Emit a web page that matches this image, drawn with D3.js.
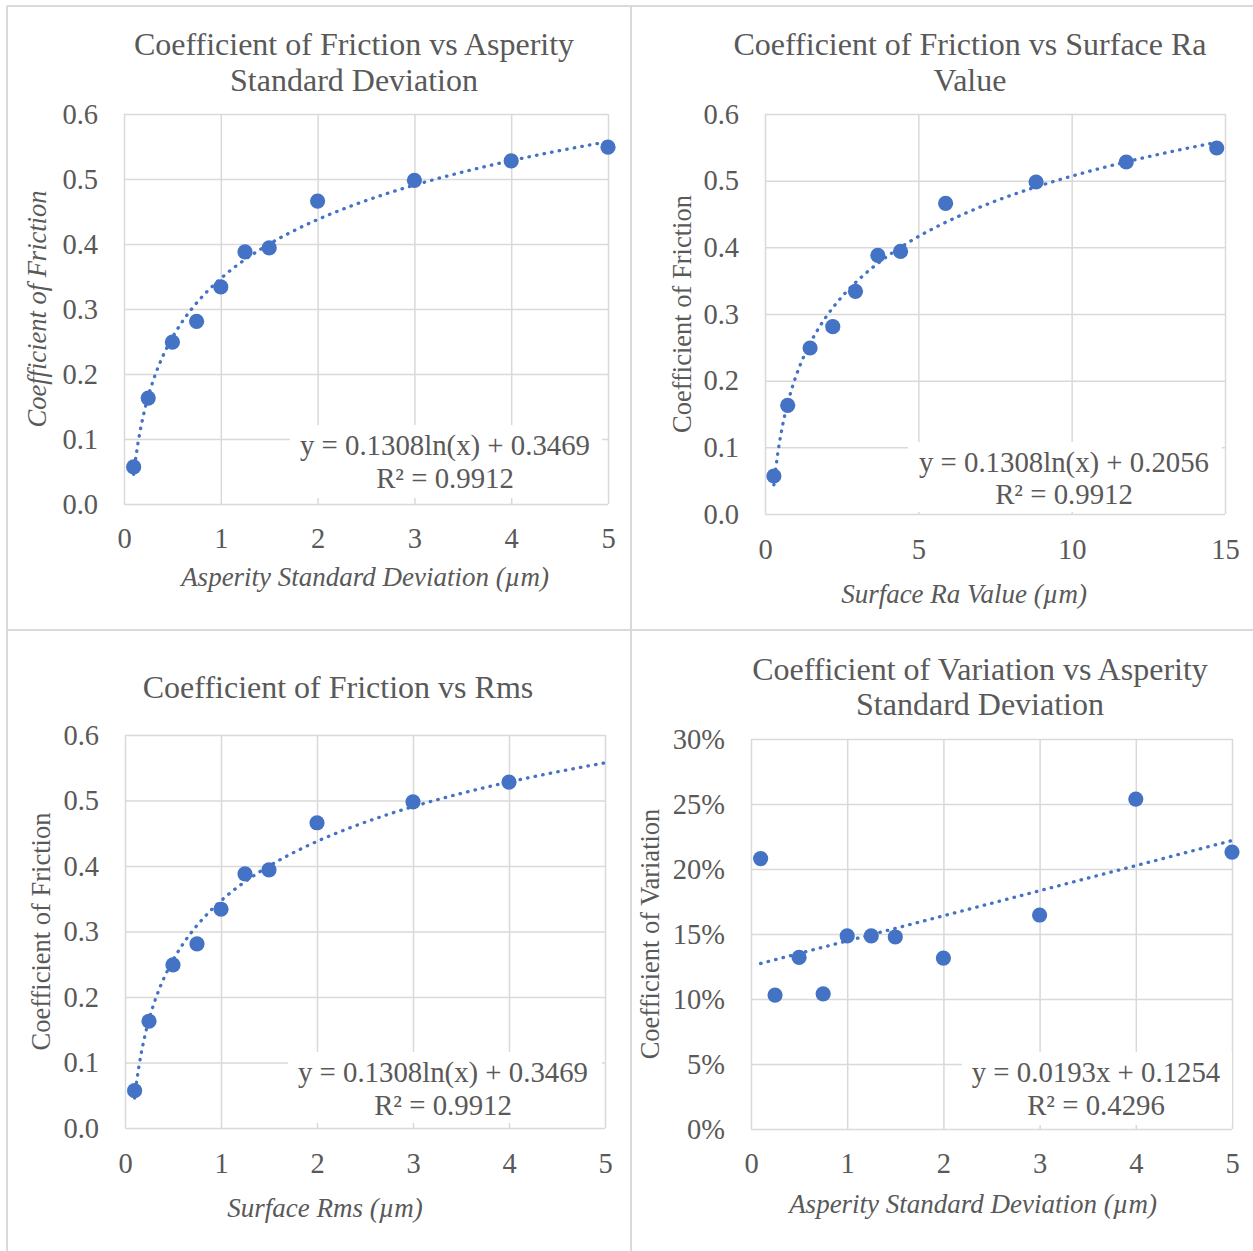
<!DOCTYPE html>
<html>
<head>
<meta charset="utf-8">
<script src="https://cdn.jsdelivr.net/npm/d3@7"></script>
<style>
  body { margin: 0; background: #fff; }
  svg { display: block; }
  text { font-family: "Liberation Serif", "Times New Roman", serif; fill: #595959; }
</style>
</head>
<body>
<svg id="chart" width="1253" height="1251"></svg>
<script>
// ---- Measurements ----
const asperitySD   = [0.1, 0.25, 0.5, 0.75, 1, 1.25, 1.5, 2, 3, 4, 5];
const frictionCoef = [0.057, 0.163, 0.249, 0.281, 0.334, 0.388, 0.394, 0.466, 0.498, 0.528, 0.549];
const surfaceRa    = [0.29, 0.74, 1.47, 2.21, 2.95, 3.68, 4.42, 5.89, 8.84, 11.78, 14.73];
const surfaceRms   = [0.1, 0.25, 0.5, 0.75, 1, 1.25, 1.5, 2, 3, 4];
const frictionRms  = [0.057, 0.163, 0.249, 0.281, 0.334, 0.388, 0.394, 0.466, 0.498, 0.528];
const variationCoef = [0.208, 0.103, 0.132, 0.104, 0.1485, 0.1485, 0.1477, 0.1315, 0.1646, 0.2538, 0.213];

// ---- Trendline coefficients (as printed on each chart) ----
const logFitSD  = { a: 0.1308, b: 0.3469, r2: 0.9912 };
const logFitRa  = { a: 0.1308, b: 0.2056, r2: 0.9912 };
const logFitRms = { a: 0.1308, b: 0.3469, r2: 0.9912 };
const linFitCV  = { m: 0.0193, c: 0.1254, r2: 0.4296 };

// ---- Axis ticks ----
const frictionTicks  = [0, 0.1, 0.2, 0.3, 0.4, 0.5, 0.6];
const variationTicks = [0, 0.05, 0.10, 0.15, 0.20, 0.25, 0.30];
const sdTicks        = [0, 1, 2, 3, 4, 5];
const raTicks        = [0, 5, 10, 15];

const BLUE = "#4472C4";
const GRID = "#d9d9d9";
const svg = d3.select("#chart");

svg.append("rect").attr("width", 1253).attr("height", 1251).attr("fill", "#fff");

// chart frames
const frame = svg.append("g").attr("stroke", GRID).attr("stroke-width", 2);
frame.append("line").attr("x1", 7).attr("x2", 7).attr("y1", 6).attr("y2", 1251);
frame.append("line").attr("x1", 631).attr("x2", 631).attr("y1", 6).attr("y2", 1251);
frame.append("line").attr("x1", 7).attr("x2", 1253).attr("y1", 6).attr("y2", 6);
frame.append("line").attr("x1", 7).attr("x2", 1253).attr("y1", 630).attr("y2", 630);

const logFn = f => x => f.a * Math.log(x) + f.b;
const linFn = f => x => f.m * x + f.c;

function drawPanel(o) {
  const g = svg.append("g");
  const x = d3.scaleLinear().domain(o.xDomain).range([o.plot.left, o.plot.right]);
  const y = d3.scaleLinear().domain(o.yDomain).range([o.plot.bottom, o.plot.top]);
  const w = o.plot.right - o.plot.left;
  const h = o.plot.bottom - o.plot.top;

  // title
  const title = g.append("text").attr("text-anchor", "middle").attr("font-size", 32);
  o.title.forEach((line, i) => {
    title.append("tspan").attr("x", o.titleX).attr("y", o.titleY[i]).text(line);
  });

  // y gridlines + labels
  const yAxis = g.append("g").attr("transform", `translate(${o.plot.left},0)`)
    .call(d3.axisLeft(y).tickValues(o.yTicks).tickFormat(o.yFormat).tickSize(-w).tickPadding(26));
  // x gridlines + labels
  const xAxis = g.append("g").attr("transform", `translate(0,${o.plot.bottom})`)
    .call(d3.axisBottom(x).tickValues(o.xTicks).tickFormat(d3.format("d")).tickSize(-h).tickPadding(o.xPad));
  [yAxis, xAxis].forEach(ax => {
    ax.select(".domain").remove();
    ax.selectAll(".tick line").attr("stroke", GRID).attr("stroke-width", 1.5);
    ax.selectAll(".tick text")
      .attr("fill", "#595959")
      .attr("font-size", 28.5)
      .attr("font-family", "'Liberation Serif', 'Times New Roman', serif");
  });

  // axis titles
  g.append("text")
    .attr("transform", `translate(${o.yTitleX},${(o.plot.top + o.plot.bottom) / 2}) rotate(-90)`)
    .attr("text-anchor", "middle")
    .attr("font-size", 26.5)
    .attr("font-style", o.yTitleItalic ? "italic" : "normal")
    .text(o.yTitle);
  g.append("text")
    .attr("x", o.xTitleX).attr("y", o.xTitleY)
    .attr("text-anchor", "middle")
    .attr("font-size", 27)
    .attr("font-style", "italic")
    .text(o.xTitle);

  // trend label background
  g.append("rect")
    .attr("x", o.eqBox[0]).attr("y", o.eqBox[1])
    .attr("width", o.eqBox[2]).attr("height", o.eqBox[3])
    .attr("fill", "#fff");

  // dotted trendline
  const [t0, t1] = o.trendRange;
  const samples = d3.range(0, 201).map(i => t0 + (t1 - t0) * i / 200);
  g.append("path")
    .datum(samples)
    .attr("d", d3.line().x(d => x(d)).y(d => y(o.trend(d))))
    .attr("fill", "none")
    .attr("stroke", BLUE)
    .attr("stroke-width", 3.3)
    .attr("stroke-linecap", "round")
    .attr("stroke-dasharray", "0.5 7.2");

  // markers
  g.append("g").selectAll("circle")
    .data(o.xs.map((v, i) => [v, o.ys[i]]))
    .join("circle")
    .attr("cx", d => x(d[0]))
    .attr("cy", d => y(d[1]))
    .attr("r", 7.6)
    .attr("fill", BLUE);

  // trend equation
  const eq = g.append("text").attr("text-anchor", "middle").attr("font-size", 28.8);
  o.eqLines.forEach((line, i) => {
    eq.append("tspan").attr("x", o.eqX).attr("y", o.eqY[i]).text(line);
  });
}

const fmt4 = d3.format(".4f");
const logLabel = f => `y = ${fmt4(f.a)}ln(x) + ${fmt4(f.b)}`;
const r2Label = f => `R² = ${fmt4(f.r2)}`;

drawPanel({
  plot: { left: 124, right: 608, top: 114, bottom: 504 },
  xDomain: [0, 5], yDomain: [0, 0.6], xTicks: sdTicks, yTicks: frictionTicks,
  yFormat: d3.format(".1f"), xPad: 24,
  xs: asperitySD, ys: frictionCoef,
  trend: logFn(logFitSD), trendRange: [0.1, 5],
  title: ["Coefficient of Friction vs Asperity", "Standard Deviation"], titleX: 354, titleY: [55, 91],
  yTitle: "Coefficient of Friction", yTitleItalic: true, yTitleX: 46,
  xTitle: "Asperity Standard Deviation (µm)", xTitleX: 365, xTitleY: 586,
  eqLines: [logLabel(logFitSD), r2Label(logFitSD)], eqX: 445, eqY: [455, 488],
  eqBox: [290, 425, 312, 73]
});

drawPanel({
  plot: { left: 765, right: 1225, top: 114, bottom: 514 },
  xDomain: [0, 15], yDomain: [0, 0.6], xTicks: raTicks, yTicks: frictionTicks,
  yFormat: d3.format(".1f"), xPad: 25,
  xs: surfaceRa, ys: frictionCoef,
  trend: logFn(logFitRa), trendRange: [0.29, 14.73],
  title: ["Coefficient of Friction vs Surface Ra", "Value"], titleX: 970, titleY: [55, 91],
  yTitle: "Coefficient of Friction", yTitleItalic: false, yTitleX: 691,
  xTitle: "Surface Ra Value (µm)", xTitleX: 964, xTitleY: 603,
  eqLines: [logLabel(logFitRa), r2Label(logFitRa)], eqX: 1064, eqY: [472, 504],
  eqBox: [908, 442, 314, 70]
});

drawPanel({
  plot: { left: 125, right: 605, top: 735, bottom: 1128 },
  xDomain: [0, 5], yDomain: [0, 0.6], xTicks: sdTicks, yTicks: frictionTicks,
  yFormat: d3.format(".1f"), xPad: 25,
  xs: surfaceRms, ys: frictionRms,
  trend: logFn(logFitRms), trendRange: [0.1, 5],
  title: ["Coefficient of Friction vs Rms"], titleX: 338, titleY: [698],
  yTitle: "Coefficient of Friction", yTitleItalic: false, yTitleX: 50,
  xTitle: "Surface Rms (µm)", xTitleX: 325, xTitleY: 1217,
  eqLines: [logLabel(logFitRms), r2Label(logFitRms)], eqX: 443, eqY: [1082, 1115],
  eqBox: [288, 1052, 314, 71]
});

drawPanel({
  plot: { left: 751, right: 1232, top: 739, bottom: 1129 },
  xDomain: [0, 5], yDomain: [0, 0.3], xTicks: sdTicks, yTicks: variationTicks,
  yFormat: d3.format(".0%"), xPad: 24,
  xs: asperitySD, ys: variationCoef,
  trend: linFn(linFitCV), trendRange: [0.1, 5],
  title: ["Coefficient of Variation vs Asperity", "Standard Deviation"], titleX: 980, titleY: [680, 715],
  yTitle: "Coefficient of Variation", yTitleItalic: false, yTitleX: 659,
  xTitle: "Asperity Standard Deviation (µm)", xTitleX: 973, xTitleY: 1213,
  eqLines: [`y = ${fmt4(linFitCV.m)}x + ${fmt4(linFitCV.c)}`, r2Label(linFitCV)], eqX: 1096, eqY: [1082, 1115],
  eqBox: [962, 1052, 270, 73]
});
</script>
</body>
</html>
